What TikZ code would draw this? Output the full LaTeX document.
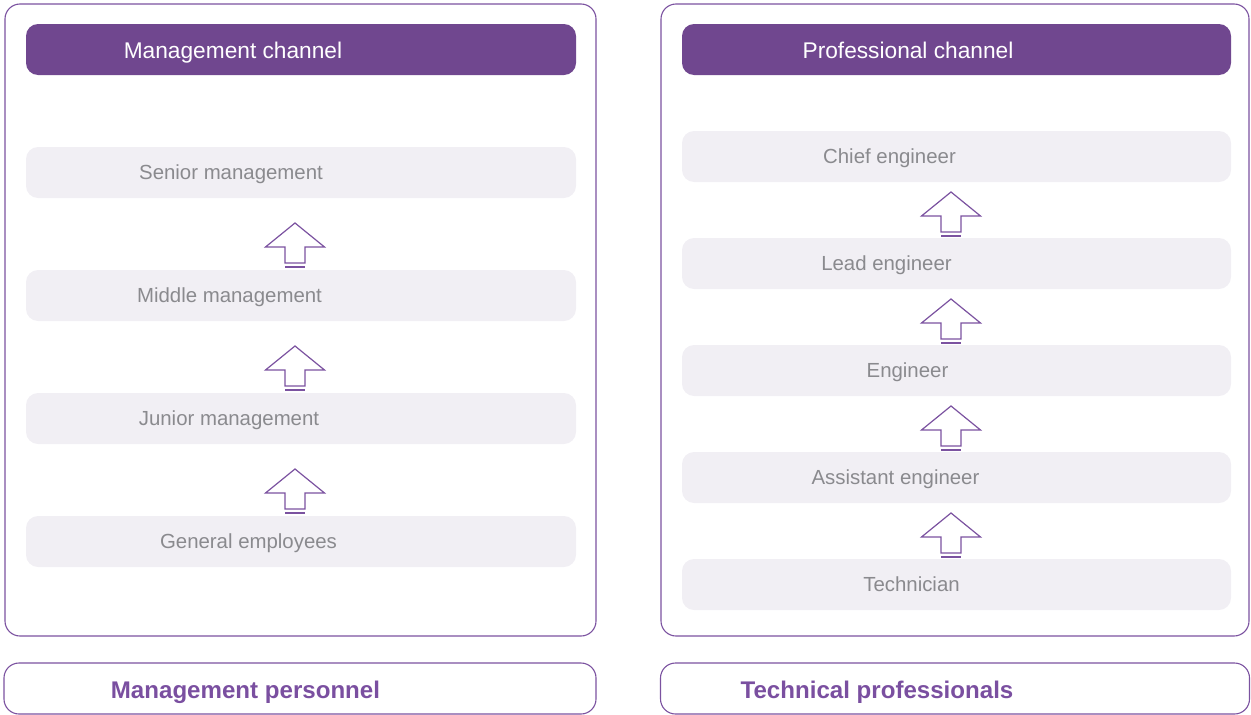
\documentclass[tikz,border=0pt]{standalone}
\usepackage{fontspec}
\setmainfont{Liberation Sans}
\definecolor{hdr}{HTML}{70478F}
\definecolor{edge}{HTML}{7B52A0}
\definecolor{itemfill}{HTML}{F1EFF4}
\definecolor{itemtxt}{HTML}{8A8A8E}
\definecolor{bottxt}{HTML}{7A4FA0}
\tikzset{
  outerbox/.style={draw=edge, line width=1.1pt, rounded corners=15pt, inner sep=0pt},
  hdrbox/.style={fill=hdr, draw=none, rounded corners=12pt, inner sep=0pt, minimum height=51pt},
  itembox/.style={fill=itemfill, draw=none, rounded corners=12pt, inner sep=0pt, minimum height=51pt},
  hdrtext/.style={text=white, font=\fontsize{22.7}{26}\selectfont, inner sep=0pt, anchor=base},
  itemtext/.style={text=itemtxt, font=\fontsize{20.4}{24}\selectfont, inner sep=0pt, anchor=base},
  bottext/.style={text=bottxt, font=\bfseries\fontsize{24.1}{28}\selectfont, inner sep=0pt, anchor=base},
  uparrow/.pic={
    \draw[edge, line width=1.2pt, line join=miter, fill=white]
      (0,0) -- (29.5,24) -- (10,24) -- (10,40) -- (-10,40) -- (-10,24) -- (-29.5,24) -- cycle;
    \draw[edge, line width=2.2pt] (-10,44) -- (10,44);
  }
}
\begin{document}
\begin{tikzpicture}[x=1pt,y=-1pt]
\useasboundingbox (0,0) rectangle (1251,715);
% outer boxes
\node[outerbox, minimum width=591pt, minimum height=632pt] (lout) at (300.5,320) {};
\node[outerbox, minimum width=588pt, minimum height=632pt] (rout) at (955,320) {};
% headers
\node[hdrbox, minimum width=550pt] (lhdr) at (301,49.5) {};
\node[hdrtext] (lhdrt) at (233,58) {Management channel};
\node[hdrbox, minimum width=549pt] (rhdr) at (956.5,49.5) {};
\node[hdrtext] (rhdrt) at (908,58) {Professional channel};
% left items
\node[itembox, minimum width=550pt] (sen) at (301,172.5) {};
\node[itemtext] (sent) at (231,179.5) {Senior management};
\node[itembox, minimum width=550pt] (mid) at (301,295.5) {};
\node[itemtext] (midt) at (229.5,302.5) {Middle management};
\node[itembox, minimum width=550pt] (jun) at (301,418.5) {};
\node[itemtext] (junt) at (229,425.5) {Junior management};
\node[itembox, minimum width=550pt] (gen) at (301,541.5) {};
\node[itemtext] (gent) at (248.5,548.5) {General employees};
% right items
\node[itembox, minimum width=549pt] (chf) at (956.5,156.5) {};
\node[itemtext] (chft) at (889.5,163.5) {Chief engineer};
\node[itembox, minimum width=549pt] (lead) at (956.5,263.5) {};
\node[itemtext] (leadt) at (886.5,270.5) {Lead engineer};
\node[itembox, minimum width=549pt] (eng) at (956.5,370.5) {};
\node[itemtext] (engt) at (907.5,377.5) {Engineer};
\node[itembox, minimum width=549pt] (asst) at (956.5,477.5) {};
\node[itemtext] (asstt) at (895.5,484.5) {Assistant engineer};
\node[itembox, minimum width=549pt] (tech) at (956.5,584.5) {};
\node[itemtext] (techt) at (911.5,591.5) {Technician};
% arrows
\pic at (295,223) {uparrow};
\pic at (295,346) {uparrow};
\pic at (295,469) {uparrow};
\pic at (951,192) {uparrow};
\pic at (951,299) {uparrow};
\pic at (951,406) {uparrow};
\pic at (951,513) {uparrow};
% bottom boxes
\node[outerbox, minimum width=592pt, minimum height=51pt] (lbot) at (300,688.5) {};
\node[bottext] (lbott) at (245.5,698.5) {Management personnel};
\node[outerbox, minimum width=589pt, minimum height=51pt] (rbot) at (955,688.5) {};
\node[bottext] (rbott) at (877,698.5) {Technical professionals};
\end{tikzpicture}
\end{document}
